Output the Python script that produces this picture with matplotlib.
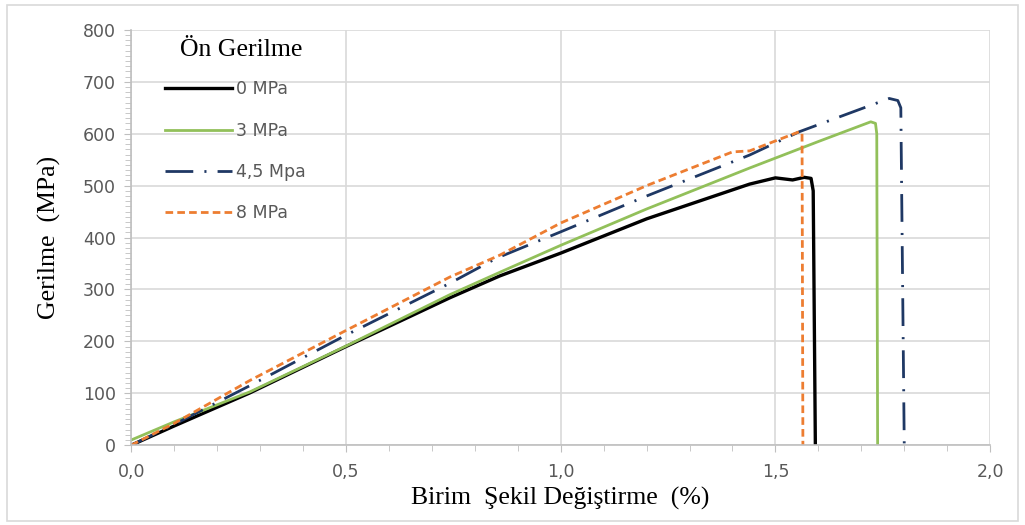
import matplotlib.pyplot as plt
from matplotlib.patches import Rectangle
from matplotlib.ticker import MultipleLocator, FuncFormatter

# strain (%) / stress (MPa)
black_x = [0, 0.1, 0.277, 0.5, 0.742, 0.858, 1.0, 1.2, 1.44, 1.5, 1.54, 1.567, 1.583, 1.588, 1.593]
black_y = [0, 37, 101, 190, 284, 326, 370, 436, 503, 515, 511, 516, 514, 490, 0]

green_x = [0, 0.1, 0.277, 0.5, 0.742, 0.858, 1.0, 1.2, 1.44, 1.6, 1.722, 1.733, 1.736, 1.738]
green_y = [10, 45, 103, 191, 290, 333, 385, 455, 534, 585, 623, 620, 600, 0]

navy_x = [0, 0.1, 0.277, 0.5, 0.742, 0.85, 1.0, 1.2, 1.44, 1.556, 1.765, 1.785, 1.792, 1.80]
navy_y = [0, 40, 115, 212, 312, 360, 411, 480, 559, 604, 668, 664, 650, 0]

orange_x = [0, 0.1, 0.277, 0.5, 0.742, 0.858, 1.0, 1.2, 1.40, 1.44, 1.556, 1.562, 1.564]
orange_y = [0, 42, 125, 221, 324, 366, 428, 500, 565, 567, 604, 600, 0]

labels = ['0 MPa', '3 MPa', '4,5 Mpa', '8 MPa']

plt.rcParams['lines.scale_dashes'] = False

fig = plt.figure(figsize=(10.25, 5.25), dpi=100)
ax = fig.add_axes([0.128, 0.152, 0.838, 0.791])

# outer chart frame
fig.patches.append(Rectangle((0.007, 0.008), 0.986, 0.982, transform=fig.transFigure,
                             fill=False, edgecolor='#d9d9d9', linewidth=1.2))

ax.plot(black_x, black_y, color='black', linewidth=2.4, label=labels[0])
ax.plot(green_x, green_y, color='#92c05a', linewidth=2.0, label=labels[1])
ax.plot(navy_x, navy_y, color='#1f3864', linewidth=2.0, dashes=(20, 8, 1.5, 8), label=labels[2])
ax.plot(orange_x, orange_y, color='#ed7d31', linewidth=2.0, dashes=(5.5, 3), label=labels[3])

ax.set_xlim(0, 2.0)
ax.set_ylim(0, 800)
ax.xaxis.set_major_locator(MultipleLocator(0.5))
ax.xaxis.set_minor_locator(MultipleLocator(0.1))
ax.yaxis.set_major_locator(MultipleLocator(100))
ax.yaxis.set_minor_locator(MultipleLocator(10))
ax.xaxis.set_major_formatter(FuncFormatter(lambda v, p: f'{v:.1f}'.replace('.', ',')))

ax.grid(True, which='major', color='#d9d9d9', linewidth=1.2)
ax.set_axisbelow(True)
for s in ['top', 'right']:
    ax.spines[s].set_visible(False)
for s in ['left', 'bottom']:
    ax.spines[s].set_color('#bfbfbf')
    ax.spines[s].set_linewidth(1.2)

ax.tick_params(which='both', direction='out', color='#bfbfbf', labelcolor='#595959',
               labelsize=12.5)
ax.tick_params(which='major', length=5)
ax.tick_params(which='minor', length=4)
for t in ax.get_xticklabels() + ax.get_yticklabels():
    t.set_family('DejaVu Sans')
ax.tick_params(axis='x', pad=8)
ax.tick_params(axis='y', pad=6)

ax.set_xlabel('Birim  Şekil Değiştirme  (%)', family='Liberation Serif', fontsize=18.5,
              color='black', labelpad=4)
ax.set_ylabel('Gerilme  (MPa)', family='Liberation Serif', fontsize=18.5,
              color='black', labelpad=16)

# legend title drawn separately so its gap to the entries can match
ax.text(0.128, 0.952, 'Ön Gerilme', transform=ax.transAxes, ha='center', va='center',
        family='Liberation Serif', fontsize=18.5, color='black')
leg = ax.legend(loc='upper left', bbox_to_anchor=(0.0396, 0.879), frameon=False,
                borderpad=0, borderaxespad=0, handlelength=3.85, handletextpad=0.2,
                labelspacing=1.35, prop={'family': 'DejaVu Sans', 'size': 12.5})
for t in leg.get_texts():
    t.set_color('#595959')

fig.savefig('out.png', dpi=100)
